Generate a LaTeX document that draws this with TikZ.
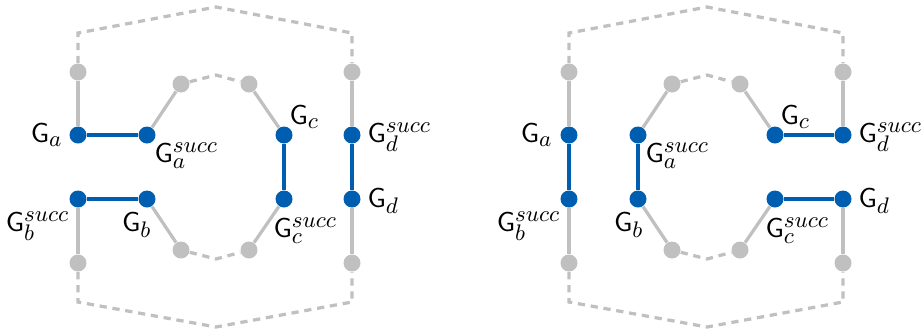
\documentclass[tikz,border=0pt]{standalone}
\DeclareMathSizes{10.5}{10.5}{8.8}{6.5}
\definecolor{myblue}{RGB}{0,94,176}
\definecolor{mygray}{RGB}{192,192,192}
\begin{document}
\begin{tikzpicture}[x={(0.4pt,0)},y={(0,-0.4pt)},
  dot/.style={circle,inner sep=0pt,minimum size=6.8pt,draw=none},
  bdot/.style={dot,fill=myblue},
  gdot/.style={dot,fill=mygray},
  bline/.style={myblue,line width=1.3pt},
  gline/.style={mygray,line width=1.3pt},
  dline/.style={mygray,line width=1.3pt,dash pattern=on 2.9pt off 2.3pt},
  lbl/.style={inner sep=0pt,font=\fontsize{10.5}{12}\selectfont}]
\useasboundingbox (0,0) rectangle (922,329);
\foreach \p/\o in {l/0,r/491}{
  \node[gdot] (\p-a1) at (78+\o,72) {};
  \node[bdot] (\p-a2) at (78+\o,135) {};
  \node[bdot] (\p-a3) at (78+\o,199) {};
  \node[gdot] (\p-a4) at (78+\o,263) {};
  \node[bdot] (\p-b2) at (147+\o,135) {};
  \node[bdot] (\p-b3) at (147+\o,199) {};
  \node[gdot] (\p-c1) at (181+\o,84) {};
  \node[gdot] (\p-c4) at (181+\o,250) {};
  \node[gdot] (\p-d1) at (249+\o,84) {};
  \node[gdot] (\p-d4) at (249+\o,250) {};
  \node[bdot] (\p-e2) at (284+\o,135) {};
  \node[bdot] (\p-e3) at (284+\o,199) {};
  \node[gdot] (\p-f1) at (352+\o,72) {};
  \node[bdot] (\p-f2) at (352+\o,135) {};
  \node[bdot] (\p-f3) at (352+\o,199) {};
  \node[gdot] (\p-f4) at (352+\o,263) {};
  \coordinate (\p-ot1) at (78+\o,33);
  \coordinate (\p-ot2) at (216+\o,7);
  \coordinate (\p-ot3) at (352+\o,33);
  \coordinate (\p-ob1) at (78+\o,302);
  \coordinate (\p-ob2) at (216+\o,327);
  \coordinate (\p-ob3) at (352+\o,302);
  \coordinate (\p-it) at (216+\o,75);
  \coordinate (\p-ib) at (216+\o,259);
  \draw[dline] (\p-a1) -- (\p-ot1) -- (\p-ot2) -- (\p-ot3) -- (\p-f1);
  \draw[dline] (\p-a4) -- (\p-ob1) -- (\p-ob2) -- (\p-ob3) -- (\p-f4);
  \draw[dline] (\p-c1) -- (\p-it) -- (\p-d1);
  \draw[dline] (\p-c4) -- (\p-ib) -- (\p-d4);
  \draw[gline] (\p-a1) -- (\p-a2);
  \draw[gline] (\p-a3) -- (\p-a4);
  \draw[gline] (\p-b2) -- (\p-c1);
  \draw[gline] (\p-b3) -- (\p-c4);
  \draw[gline] (\p-d1) -- (\p-e2);
  \draw[gline] (\p-d4) -- (\p-e3);
  \draw[gline] (\p-f1) -- (\p-f2);
  \draw[gline] (\p-f3) -- (\p-f4);
}
% left diagram matching
\draw[bline] (l-a2) -- (l-b2);
\draw[bline] (l-a3) -- (l-b3);
\draw[bline] (l-e2) -- (l-e3);
\draw[bline] (l-f2) -- (l-f3);
% right diagram matching
\draw[bline] (r-a2) -- (r-a3);
\draw[bline] (r-b2) -- (r-b3);
\draw[bline] (r-e2) -- (r-f2);
\draw[bline] (r-e3) -- (r-f3);
% left labels
\node[lbl,anchor=base east] (l-la) at (63,142) {$\mathsf{G}_a$};
\node[lbl,anchor=base west] (l-las) at (154,162) {$\mathsf{G}_a^{succ}$};
\node[lbl,anchor=base east] (l-lbs) at (70,231) {$\mathsf{G}_b^{succ}$};
\node[lbl,anchor=base east] (l-lb) at (152,231) {$\mathsf{G}_b$};
\node[lbl,anchor=base west] (l-lc) at (289,124) {$\mathsf{G}_c$};
\node[lbl,anchor=base west] (l-lcs) at (273,237) {$\mathsf{G}_c^{succ}$};
\node[lbl,anchor=base west] (l-lds) at (367,142) {$\mathsf{G}_d^{succ}$};
\node[lbl,anchor=base west] (l-ld) at (367,207) {$\mathsf{G}_d$};
% right labels
\node[lbl,anchor=base east] (r-la) at (553,142) {$\mathsf{G}_a$};
\node[lbl,anchor=base west] (r-las) at (645,162) {$\mathsf{G}_a^{succ}$};
\node[lbl,anchor=base east] (r-lbs) at (561,231) {$\mathsf{G}_b^{succ}$};
\node[lbl,anchor=base east] (r-lb) at (644,231) {$\mathsf{G}_b$};
\node[lbl,anchor=base west] (r-lc) at (780,124) {$\mathsf{G}_c$};
\node[lbl,anchor=base west] (r-lcs) at (765,237) {$\mathsf{G}_c^{succ}$};
\node[lbl,anchor=base west] (r-lds) at (858,142) {$\mathsf{G}_d^{succ}$};
\node[lbl,anchor=base west] (r-ld) at (858,207) {$\mathsf{G}_d$};
\end{tikzpicture}
\end{document}
